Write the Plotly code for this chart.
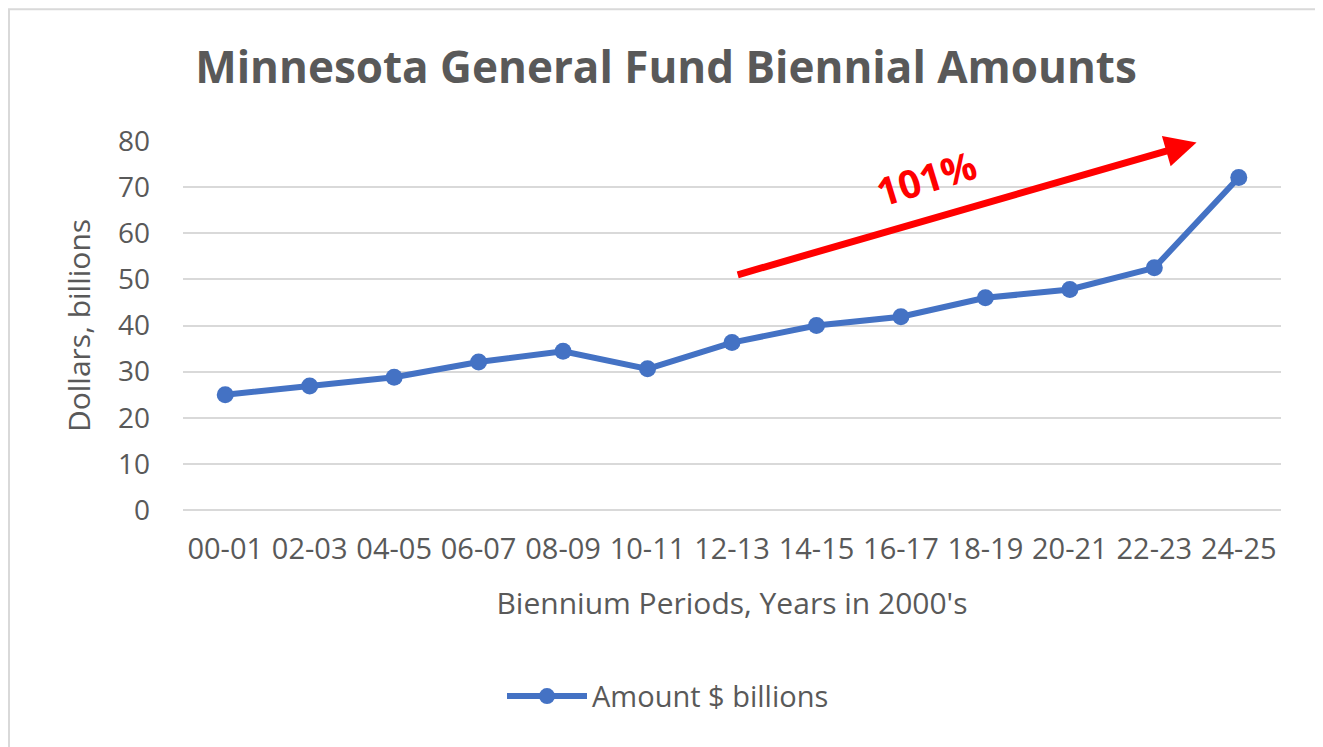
import plotly.graph_objects as go

periods = ["00-01", "02-03", "04-05", "06-07", "08-09", "10-11", "12-13",
           "14-15", "16-17", "18-19", "20-21", "22-23", "24-25"]
amounts = [25.0, 26.9, 28.8, 32.1, 34.4, 30.6, 36.3, 40.0, 41.9, 46.0, 47.8, 52.5, 72.1]
y_ticks = [0, 10, 20, 30, 40, 50, 60, 70, 80]

# annotation arrow (category index, value)
arrow_tail = (6.05, 50.9)
arrow_head = (11.5, 79.7)
label_pos = (8.3, 72.0)
label_text = "101%"

FONT = "Open Sans"
GREY = "#595959"
BLUE = "#4472C4"

# page body has an 8px margin; figure coordinates are offset by it
OFF = 8
L, R_EDGE, T, B_EDGE = 183 - OFF, 1281 - OFF, 141 - OFF, 510.5 - OFF
PW, PH = R_EDGE - L, B_EDGE - T

fig = go.Figure()
fig.add_trace(go.Scatter(
    x=list(range(len(periods))), y=amounts, mode="lines+markers",
    name="Amount $ billions",
    line=dict(color=BLUE, width=6),
    marker=dict(color=BLUE, size=17),
))

fig.update_layout(
    width=1323, height=747,
    margin=dict(l=L, r=1323 - R_EDGE, t=T, b=747 - B_EDGE),
    paper_bgcolor="white", plot_bgcolor="white",
    font=dict(family=FONT, color=GREY),
    title=dict(text="<b>Minnesota General Fund Biennial Amounts</b>",
               x=(666 - OFF) / 1323, xanchor="center", y=1 - (68 - OFF) / 747,
               yanchor="middle",
               font=dict(size=44, color=GREY, family=FONT)),
    showlegend=True,
    legend=dict(x=(668 - OFF - L) / PW, y=(B_EDGE - (697 - OFF)) / PH,
                xanchor="center", yanchor="middle",
                orientation="h", font=dict(size=29, color=GREY),
                itemwidth=80, bgcolor="rgba(0,0,0,0)"),
    xaxis=dict(
        range=[-0.5, len(periods) - 0.5],
        tickmode="array", tickvals=list(range(len(periods))), ticktext=periods,
        showgrid=False, zeroline=False, showline=False, ticks="",
        tickfont=dict(size=29, color=GREY), ticklabelstandoff=19,
        title=dict(text="Biennium Periods, Years in 2000's", standoff=26,
                   font=dict(size=30, color=GREY)),
    ),
    yaxis=dict(
        range=[0, 80], tickmode="array", tickvals=y_ticks,
        showgrid=True, gridcolor="#d9d9d9", gridwidth=2,
        zeroline=True, zerolinecolor="#d9d9d9", zerolinewidth=2,
        showline=False, ticks="",
        tickfont=dict(size=28, color=GREY), ticklabelstandoff=32,
        title=dict(text="Dollars, billions", standoff=18,
                   font=dict(size=30, color=GREY)),
    ),
)

fig.add_annotation(
    x=arrow_head[0], y=arrow_head[1], ax=arrow_tail[0], ay=arrow_tail[1],
    xref="x", yref="y", axref="x", ayref="y",
    text="", showarrow=True, arrowhead=2, arrowsize=0.9, arrowwidth=7,
    arrowcolor="#FF0000",
)
fig.add_annotation(
    x=label_pos[0], y=label_pos[1], xref="x", yref="y",
    text="<b>" + label_text + "</b>", showarrow=False, textangle=-17,
    font=dict(size=39, color="#FF0000", family=FONT),
)

# chart border
fig.add_shape(type="rect", xref="paper", yref="paper",
              x0=(1 - L) / PW, x1=(1318 - OFF - L) / PW,
              y0=(B_EDGE - 760) / PH, y1=(B_EDGE - 1) / PH,
              line=dict(color="#d9d9d9", width=2), fillcolor="rgba(0,0,0,0)",
              layer="below")

fig.write_html("out.html")
